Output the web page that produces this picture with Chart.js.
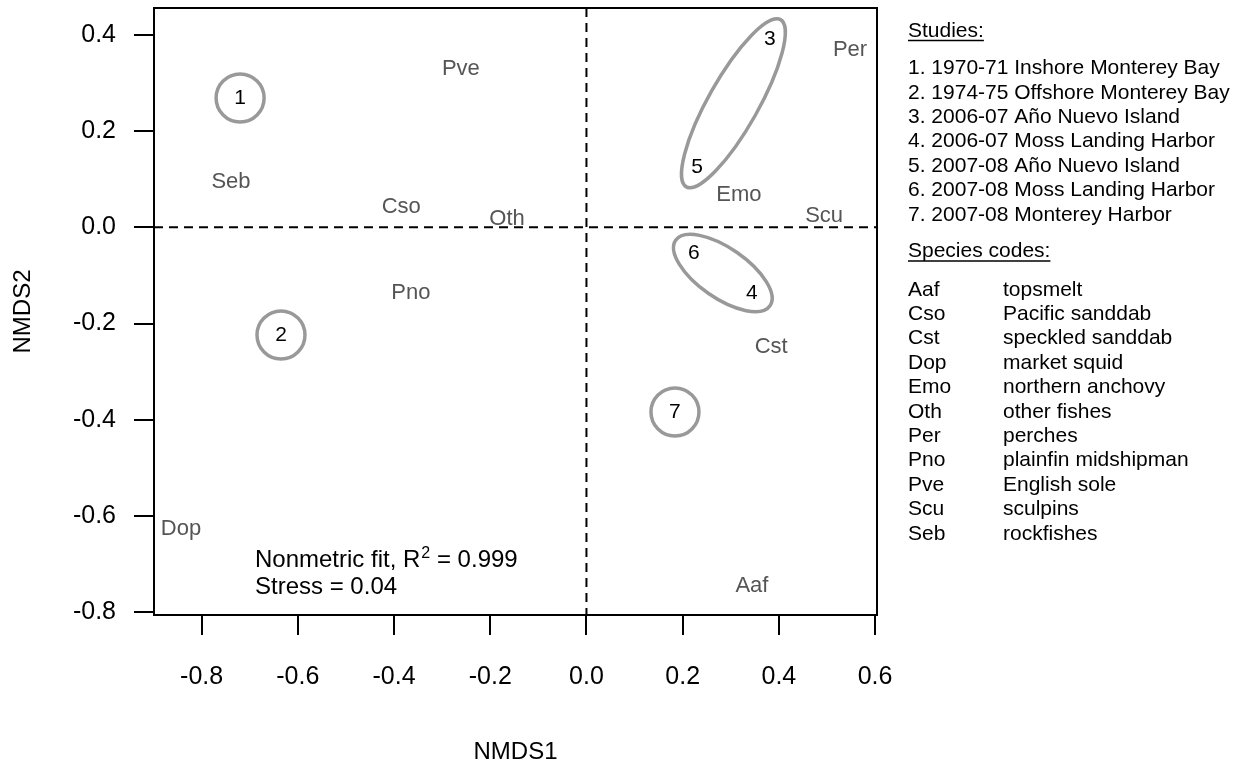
<!DOCTYPE html>
<html><head><meta charset="utf-8">
<script src="https://cdn.jsdelivr.net/npm/chart.js@4.4.0/dist/chart.umd.min.js"></script>
<style>html,body{margin:0;padding:0;background:#fff;}#wrap{width:1245px;height:766px;}</style>
</head><body><div id="wrap"><canvas id="c" width="1245" height="766"></canvas></div>
<script>
// ---- data ----
const speciesCodes = ['Aaf','Cso','Cst','Dop','Emo','Oth','Per','Pno','Pve','Scu','Seb'];
const speciesX = [0.344,-0.385,0.384,-0.843,0.317,-0.165,0.548,-0.365,-0.261,0.494,-0.739];
const speciesY = [-0.746,0.042,-0.249,-0.627,0.067,0.018,0.369,-0.137,0.329,0.023,0.094];
const speciesNames = ['topsmelt','Pacific sanddab','speckled sanddab','market squid','northern anchovy','other fishes','perches','plainfin midshipman','English sole','sculpins','rockfishes'];

const studyIds = ['1','2','3','4','5','6','7'];
const studyX = [-0.720,-0.635,0.381,0.344,0.230,0.223,0.184];
const studyY = [0.269,-0.224,0.392,-0.137,0.124,-0.053,-0.384];
const studyNames = ['1970-71 Inshore Monterey Bay','1974-75 Offshore Monterey Bay','2006-07 Año Nuevo Island','2006-07 Moss Landing Harbor','2007-08 Año Nuevo Island','2007-08 Moss Landing Harbor','2007-08 Monterey Harbor'];

const ellipseGroups = [['3','5'],['6','4']];
const circleGroups = ['1','2','7'];

const xTicks = [-0.8,-0.6,-0.4,-0.2,0,0.2,0.4,0.6];
const xTickLabels = ['-0.8','-0.6','-0.4','-0.2','0.0','0.2','0.4','0.6'];
const yTicks = [-0.8,-0.6,-0.4,-0.2,0,0.2,0.4];
const yTickLabels = ['-0.8','-0.6','-0.4','-0.2','0.0','0.2','0.4'];
const xRange = [-0.899,0.604];
const yRange = [-0.806,0.456];
const xTitle = 'NMDS1', yTitle = 'NMDS2';
const fitR2 = '0.999', fitStress = '0.04';

// ---- drawing ----
const FONT = '"Liberation Sans", Arial, Helvetica, sans-serif';
const RING = '#999999';

const annot = {
  id: 'annot',
  beforeDatasetsDraw(chart) {
    const {ctx, chartArea: a, scales: {x, y}} = chart;
    ctx.save();
    ctx.strokeStyle = '#000'; ctx.lineWidth = 2; ctx.setLineDash([9, 6]);
    const px = x.getPixelForValue(0), py = y.getPixelForValue(0);
    ctx.beginPath();
    ctx.moveTo(px, a.top); ctx.lineTo(px, a.bottom);
    ctx.moveTo(a.left, py); ctx.lineTo(a.right, py);
    ctx.stroke();
    ctx.restore();
  },
  afterDatasetsDraw(chart) {
    const {ctx, chartArea: a} = chart;
    const sp = chart.getDatasetMeta(0).data;
    const st = chart.getDatasetMeta(1).data;
    const stPos = id => st[studyIds.indexOf(id)];
    ctx.save();
    // rings
    ctx.strokeStyle = RING; ctx.lineWidth = 3.5;
    circleGroups.forEach(id => {
      const p = stPos(id);
      ctx.beginPath(); ctx.arc(p.x, p.y, 24, 0, Math.PI * 2); ctx.stroke();
    });
    ellipseGroups.forEach(([i1, i2]) => {
      const p1 = stPos(i1), p2 = stPos(i2);
      const cx = (p1.x + p2.x) / 2, cy = (p1.y + p2.y) / 2;
      const half = Math.hypot(p2.x - p1.x, p2.y - p1.y) / 2;
      const rot = Math.atan2(p2.y - p1.y, p2.x - p1.x);
      ctx.beginPath(); ctx.ellipse(cx, cy, half + 22, 25, rot, 0, Math.PI * 2); ctx.stroke();
    });
    // species labels
    ctx.textAlign = 'center'; ctx.textBaseline = 'middle';
    ctx.font = '22px ' + FONT; ctx.fillStyle = '#555';
    sp.forEach((p, i) => ctx.fillText(speciesCodes[i], p.x, p.y));
    // study labels
    ctx.font = '21px ' + FONT; ctx.fillStyle = '#000';
    st.forEach((p, i) => ctx.fillText(studyIds[i], p.x, p.y));

    // frame
    ctx.lineWidth = 2; ctx.strokeStyle = '#000';
    ctx.strokeRect(a.left, a.top, a.right - a.left, a.bottom - a.top);

    // fit text
    ctx.textAlign = 'left'; ctx.textBaseline = 'alphabetic';
    let tx = a.left + 101, ty1 = a.bottom - 48, ty2 = a.bottom - 21;
    ctx.font = '24px ' + FONT;
    const s1 = 'Nonmetric fit, R';
    ctx.fillText(s1, tx, ty1);
    let w = ctx.measureText(s1).width;
    ctx.font = '16px ' + FONT;
    ctx.fillText('2', tx + w + 1, ty1 - 9);
    w += ctx.measureText('2').width + 1;
    ctx.font = '24px ' + FONT;
    ctx.fillText(' = ' + fitR2, tx + w, ty1);
    ctx.fillText('Stress = ' + fitStress, tx, ty2);

    // axis titles
    ctx.textAlign = 'center'; ctx.textBaseline = 'middle';
    ctx.fillText(xTitle, (a.left + a.right) / 2, 752);
    ctx.save();
    ctx.translate(23, (a.top + a.bottom) / 2);
    ctx.rotate(-Math.PI / 2);
    ctx.fillText(yTitle, 0, 0);
    ctx.restore();

    // legend
    const lx = a.right + 31, nx = a.right + 126;
    ctx.textAlign = 'left'; ctx.textBaseline = 'alphabetic';
    ctx.font = '21px ' + FONT; ctx.fillStyle = '#000';
    const underline = (t, x, yb) => {
      ctx.fillText(t, x, yb);
      const tw = ctx.measureText(t).width;
      ctx.beginPath(); ctx.lineWidth = 1.5;
      ctx.moveTo(x, yb + 4); ctx.lineTo(x + tw, yb + 4); ctx.stroke();
    };
    underline('Studies:', lx, 36.5);
    studyNames.forEach((n, i) => ctx.fillText(studyIds[i] + '. ' + n, lx, 74.2 + i * 24.4));
    underline('Species codes:', lx, 257);
    speciesCodes.forEach((c, i) => {
      const yb = 295.5 + i * 24.4;
      ctx.fillText(c, lx, yb);
      ctx.fillText(speciesNames[i], nx, yb);
    });
    ctx.restore();
  }
};

new Chart(document.getElementById('c'), {
  type: 'scatter',
  data: {
    datasets: [
      {label: 'species', data: speciesX.map((v, i) => ({x: v, y: speciesY[i]})), pointRadius: 0, pointHoverRadius: 0},
      {label: 'studies', data: studyX.map((v, i) => ({x: v, y: studyY[i]})), pointRadius: 0, pointHoverRadius: 0}
    ]
  },
  options: {
    responsive: false, animation: false, devicePixelRatio: 1,
    layout: {padding: {top: 8, right: 368, left: 0, bottom: 0}},
    plugins: {legend: {display: false}, tooltip: {enabled: false}},
    events: [],
    scales: {
      x: {
        type: 'linear', min: xRange[0], max: xRange[1],
        afterBuildTicks: s => { s.ticks = xTicks.map(v => ({value: v})); },
        afterFit: s => { s.height = 151; s.paddingLeft = 0; s.paddingRight = 0; },
        border: {display: false},
        grid: {drawOnChartArea: false, drawTicks: true, tickLength: 20, color: '#000', lineWidth: 2},
        ticks: {autoSkip: false, maxRotation: 0, padding: 27, color: '#000', font: {family: FONT, size: 25},
          callback: (v, i) => xTickLabels[xTicks.indexOf(v)] ?? ''}
      },
      y: {
        type: 'linear', min: yRange[0], max: yRange[1],
        afterBuildTicks: s => { s.ticks = yTicks.map(v => ({value: v})); },
        afterFit: s => { s.width = 154; s.paddingTop = 0; s.paddingBottom = 0; },
        border: {display: false},
        grid: {drawOnChartArea: false, drawTicks: true, tickLength: 20, color: '#000', lineWidth: 2},
        ticks: {autoSkip: false, padding: 18, color: '#000', font: {family: FONT, size: 25},
          callback: (v, i) => yTickLabels[yTicks.indexOf(v)] ?? ''}
      }
    }
  },
  plugins: [annot]
});
</script></body></html>
